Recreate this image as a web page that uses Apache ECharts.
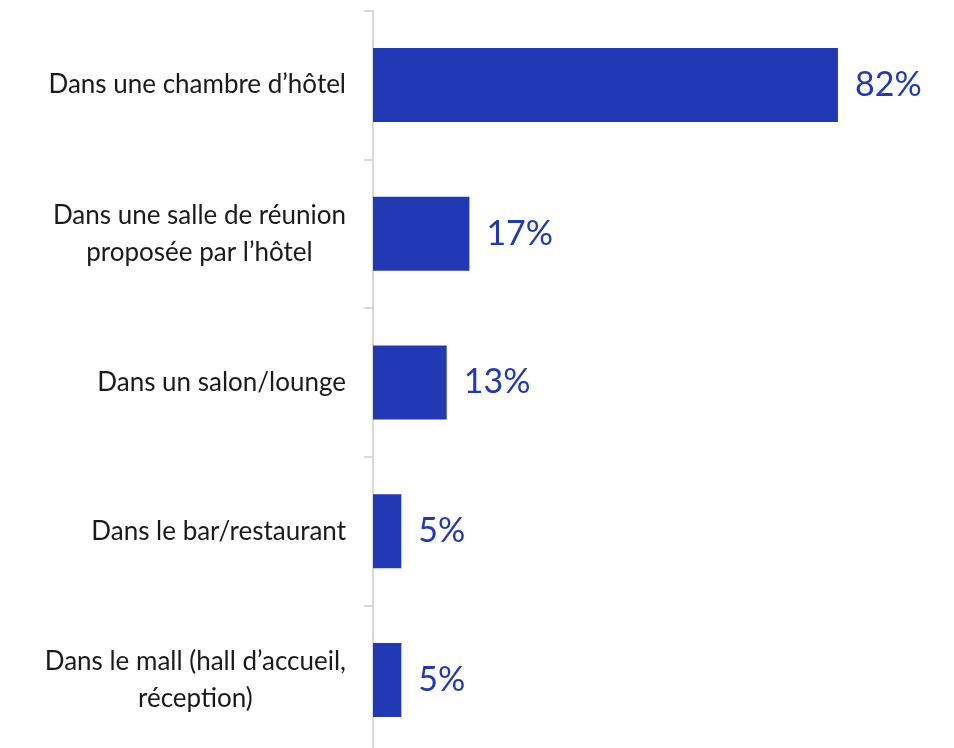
<!DOCTYPE html>
<html>
<head>
<meta charset="utf-8">
<script src="https://cdn.jsdelivr.net/npm/echarts@6/dist/echarts.min.js"></script>
<style>
html,body{margin:0;padding:0;background:#fff;}
#chart{width:954px;height:748px;}
</style>
</head>
<body>
<div id="chart"></div>
<script>
const categories = [
  "Dans une chambre d’hôtel",
  "Dans une salle de réunion\nproposée par l’hôtel",
  "Dans un salon/lounge",
  "Dans le bar/restaurant",
  "Dans le mall (hall d’accueil,\nréception)"
];
const values = [82, 17, 13, 5, 5];

const chart = echarts.init(document.getElementById('chart'));
chart.setOption({
  animation: false,
  grid: {left: 373, width: 567, top: 10.5, height: 744, containLabel: false, outerBoundsMode: 'none'},
  xAxis: {
    type: 'value', min: 0, max: 100,
    show: false
  },
  yAxis: {
    type: 'category',
    data: categories,
    inverse: true,
    axisLine: {show: true, lineStyle: {color: '#d9d9d9', width: 2}},
    axisTick: {show: true, length: 9, lineStyle: {color: '#d9d9d9', width: 2}},
    axisLabel: {
      margin: 27,
      align: 'right',
      fontFamily: 'Lato',
      fontSize: 26,
      color: '#1a1a1a',
      lineHeight: 37,
      formatter: function (v) { return '{c|' + v.split('\n').join('}\n{c|') + '}'; },
      rich: {c: {align: 'center', fontFamily: 'Lato', fontSize: 26, color: '#1a1a1a', lineHeight: 37}}
    }
  },
  series: [{
    type: 'bar',
    data: values,
    barWidth: 74,
    itemStyle: {color: '#2139b4'},
    label: {
      show: true,
      position: 'right',
      distance: 17,
      formatter: '{c}%',
      fontFamily: 'Lato',
      fontSize: 34,
      color: '#2139b4'
    }
  }]
});
</script>
</body>
</html>
